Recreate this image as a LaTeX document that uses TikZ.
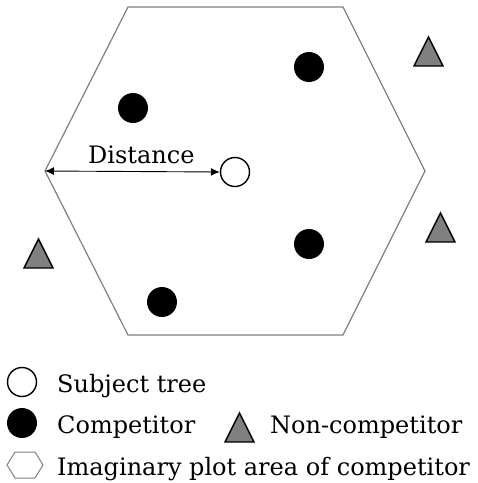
\documentclass[tikz,border=0pt]{standalone}
\usepackage{fontspec}
\setmainfont{DejaVu Serif}
\usetikzlibrary{arrows.meta}
\definecolor{hexgray}{RGB}{128,128,128}
\definecolor{trifill}{RGB}{128,128,128}
\tikzset{
  subject/.style={circle,draw=black,line width=1.4pt,fill=white,minimum size=29pt,inner sep=0pt},
  competitor/.style={circle,fill=black,minimum size=30pt,inner sep=0pt},
  noncomp/.style={draw=black,line width=1.4pt,fill=trifill,line join=miter},
  plotedge/.style={draw=hexgray,line width=1.2pt},
  label/.style={font=\fontsize{24}{26}\selectfont,inner sep=0pt,anchor=base west},
}
% non-competitor triangle: apex point, 29 wide, 29 high
\newcommand{\ncTriangle}[2]{%
  \coordinate (#1) at #2;
  \draw[noncomp] (#1) -- ++(14.5,29) -- ++(-29,0) -- cycle;}
\begin{document}
\begin{tikzpicture}[x=1pt,y=-1pt]
\useasboundingbox (0,0) rectangle (478,483);
% imaginary plot area (hexagon)
\coordinate (hl) at (45,171);
\coordinate (htl) at (128,7);
\coordinate (htr) at (343,7);
\coordinate (hr) at (425,171);
\coordinate (hbr) at (343,335);
\coordinate (hbl) at (128,335);
\draw[plotedge] (hl) -- (htl) -- (htr) -- (hr) -- (hbr) -- (hbl) -- cycle;
% trees
\node[subject] (subj) at (235,172) {};
\node[competitor] (c1) at (309,67) {};
\node[competitor] (c2) at (133,108) {};
\node[competitor] (c3) at (309,244) {};
\node[competitor] (c4) at (162,302) {};
\ncTriangle{n1}{(428.5,37)}
\ncTriangle{n2}{(440.5,213)}
\ncTriangle{n3}{(38.5,239)}
% distance
\draw[line width=0.9pt,{Latex[length=9pt,width=8pt]}-{Latex[length=9pt,width=8pt]}] (hl) -- (subj.west);
\node[label] (dist) at (88,163) {Distance};
% legend
\node[subject] (ls) at (22,382) {};
\node[label] (lst) at (57,392) {Subject tree};
\node[competitor] (lc) at (22,423) {};
\node[label] (lct) at (57,433) {Competitor};
\ncTriangle{ln}{(239.5,413)}
\node[label] (lnt) at (270,433) {Non-competitor};
\coordinate (ghl) at (7,465);
\coordinate (ghtl) at (15,452);
\coordinate (ghtr) at (35,452);
\coordinate (ghr) at (43,465);
\coordinate (ghbr) at (35,478);
\coordinate (ghbl) at (15,478);
\draw[plotedge,line width=1pt] (ghl) -- (ghtl) -- (ghtr) -- (ghr) -- (ghbr) -- (ghbl) -- cycle;
\node[label] (lht) at (57,475) {Imaginary plot area of competitor};
\end{tikzpicture}
\end{document}
